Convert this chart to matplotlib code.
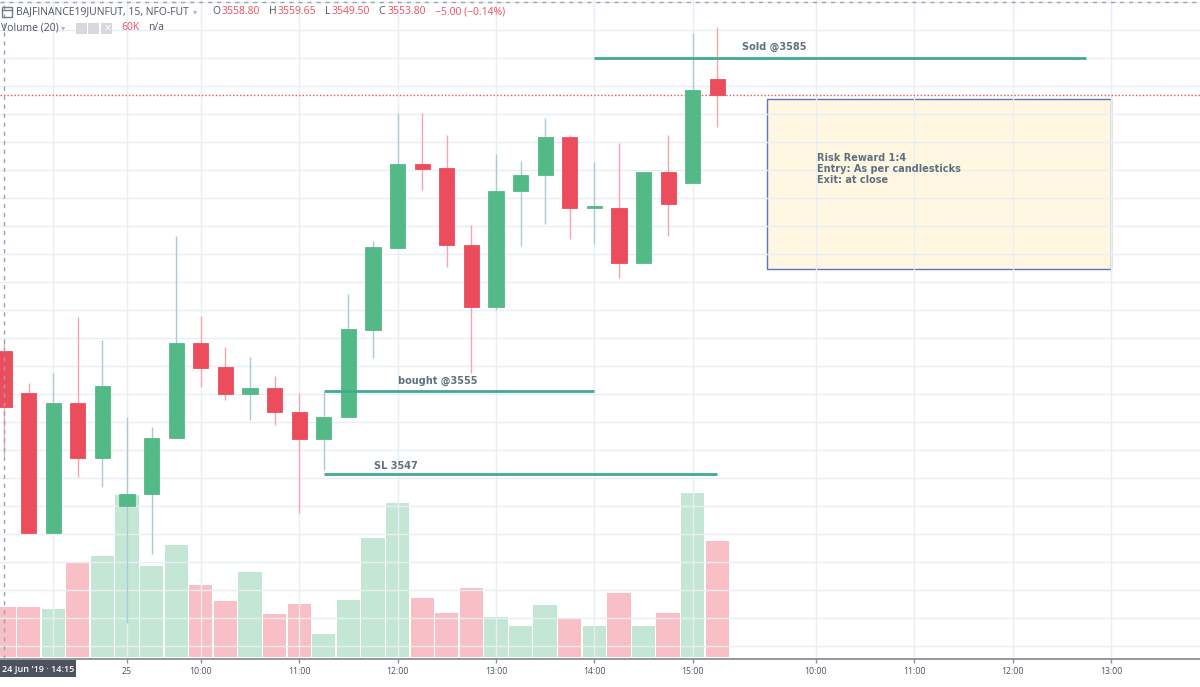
import matplotlib
matplotlib.use('Agg')
import matplotlib.pyplot as plt
from matplotlib.patches import Rectangle
import numpy as np

# 15 min bars, index 0 = 25 Jun 09:15 (previous day bars are negative)
bar_idx = list(range(-5, 25))
opens = [3558.80, 3555.10, 3542.60, 3554.20, 3549.30, 3545.00, 3546.10, 3551.10, 3559.55, 3557.40,
         3555.00, 3555.55, 3553.40, 3551.00, 3552.95, 3560.70, 3568.05, 3575.55, 3575.20, 3568.30,
         3562.75, 3573.10, 3574.55, 3577.95, 3571.60, 3571.60, 3566.70, 3574.80, 3573.85, 3583.10]
highs = [3559.65, 3556.00, 3556.90, 3561.90, 3559.80, 3552.95, 3552.05, 3569.10, 3561.95, 3559.20,
         3558.30, 3556.60, 3555.10, 3555.20, 3563.90, 3568.65, 3580.10, 3580.10, 3578.10, 3570.10,
         3576.45, 3575.80, 3579.65, 3578.10, 3575.70, 3577.40, 3574.80, 3578.10, 3587.25, 3587.75]
lows = [3549.50, 3542.60, 3542.60, 3547.60, 3546.70, 3534.55, 3540.70, 3551.10, 3555.60, 3554.45,
        3552.70, 3552.25, 3544.40, 3548.20, 3552.95, 3558.20, 3568.05, 3573.20, 3566.35, 3556.90,
        3562.50, 3568.20, 3570.20, 3568.85, 3568.40, 3565.35, 3566.70, 3569.10, 3573.85, 3578.85]
closes = [3553.80, 3542.60, 3554.20, 3549.30, 3555.70, 3546.10, 3551.10, 3559.55, 3557.30, 3555.00,
          3555.55, 3553.40, 3551.00, 3552.95, 3560.80, 3568.10, 3575.55, 3575.10, 3568.30, 3562.75,
          3573.10, 3574.55, 3577.95, 3571.60, 3571.65, 3566.70, 3574.80, 3571.95, 3582.15, 3581.70]
volumes_k = [25.9, 25.9, 24.8, 48.6, 52.2, 83.8, 47.1, 57.9, 37.2, 29.0,
             44.0, 22.2, 27.4, 11.9, 29.5, 61.6, 79.7, 30.5, 22.8, 35.7,
             20.7, 16.0, 26.9, 20.2, 16.0, 33.1, 16.0, 22.8, 84.8, 60.0]

tick_pos = [-3, 0, 3, 7, 11, 15, 19, 23, 28, 32, 36, 40]
tick_labels = ['', '25', '10:00', '11:00', '12:00', '13:00', '14:00', '15:00',
               '10:00', '11:00', '12:00', '13:00']

# drawings on the chart
sold_level = 3585.0
buy_level = 3555.3
sl_level = 3547.9
box_lo, box_hi = 3566.16, 3581.34

green = '#53b987'
red = '#eb4d5c'
teal = '#43a894'
txt_col = '#5f7080'

fig = plt.figure(figsize=(12, 6.87), dpi=100)
rect = [0, 28 / 687, 1, 659 / 687]
ax_vol = fig.add_axes(rect)
ax = fig.add_axes(rect, sharex=ax_vol)
ax.patch.set_visible(False)

x = np.array(bar_idx)
o = np.array(opens)
h = np.array(highs)
l = np.array(lows)
c = np.array(closes)
up = c >= o

# volume
vol_cols = [(83/255, 185/255, 135/255, 0.35) if u else (235/255, 77/255, 92/255, 0.35) for u in up]
ax_vol.bar(x, volumes_k, width=0.95, color=vol_cols, linewidth=0)
ax_vol.set_ylim(-1.03, 339.8)
ax_vol.set_axis_off()

# grid
ax.set_axisbelow(True)
ax.set_yticks(np.arange(3532.5, 3590.1, 2.5))
ax.set_xticks(tick_pos, tick_labels)
ax.grid(True, color='#e8eef3', lw=1)
ax.tick_params(axis='y', left=False, labelleft=False)
ax.tick_params(axis='x', length=3, width=1, color='#8c8f96', pad=3,
               labelsize=6.3, labelcolor='#4c525e')
for lab in ax.get_xticklabels():
    lab.set_family(['Open Sans', 'DejaVu Sans'])
for s in ['top', 'right', 'left']:
    ax.spines[s].set_visible(False)
ax.spines['bottom'].set_color('#8c8f96')
ax.spines['bottom'].set_linewidth(1.3)

# candles
wick_cols = np.where(up, '#a9cbd3', '#f5a5ae')
body_cols = np.where(up, green, red)
ax.vlines(x, l, h, colors=wick_cols, lw=1, zorder=3)
ax.bar(x, np.maximum(np.abs(c - o), 0.16), bottom=np.minimum(o, c), width=0.62,
       color=body_cols, edgecolor=body_cols, lw=0.6, zorder=4)

ax.set_xlim(-5.163, 43.62)
ax.set_ylim(3531.34, 3590.18)

# last price line and crosshair
ax.axhline(closes[-1], color=red, lw=1, ls=(0, (1, 1.5)), zorder=2)
ax.axvline(bar_idx[0], color='#9aa3b3', lw=1, ls=(0, (3, 3.5)), zorder=6)
ax.axhline(3589.98, color='#9aa3b3', lw=1, ls=(0, (3, 3.5)), zorder=6)

# trade lines
ax.hlines(sold_level, 19, 39, color=teal, lw=2, zorder=5)
ax.hlines(buy_level, 8, 19, color=teal, lw=2, zorder=5)
ax.hlines(sl_level, 8, 24, color=teal, lw=2, zorder=5)
tfont = dict(family='DejaVu Sans', fontsize=7, fontweight='bold', color=txt_col, va='center', ha='left')
ax.text(25.0, 3585.98, 'Sold @3585', zorder=6, **tfont)
ax.text(11.0, 3556.16, 'bought @3555', zorder=6, **tfont)
ax.text(10.05, 3548.57, 'SL 3547', zorder=6, **tfont)

# risk reward box
ax.add_patch(Rectangle((26, box_lo), 14, box_hi - box_lo, facecolor='#fff7e1',
                       edgecolor='#5f72c0', lw=1, zorder=0.4))
ax.text(28.05, 3575.1, 'Risk Reward 1:4\nEntry: As per candlesticks\nExit: at close',
        linespacing=1.15, zorder=6, **tfont)


# header
def fx(px):
    return px / 1200


def fy(py):
    return 1 - py / 687


hfont = ['Open Sans', 'DejaVu Sans']
dark = '#50535e'
fig.add_artist(Rectangle((fx(2), fy(17)), 10 / 1200, 10 / 687, transform=fig.transFigure,
                         facecolor='none', edgecolor='#787b86', lw=1))
fig.add_artist(plt.Line2D([fx(2), fx(12)], [fy(10), fy(10)], transform=fig.transFigure,
                          color='#787b86', lw=1))
fig.text(fx(16), fy(12), 'BAJFINANCE19JUNFUT, 15, NFO-FUT', family=hfont, fontsize=7.5,
         color=dark, va='center')
fig.text(fx(193), fy(12), '▾', family=['DejaVu Sans'], fontsize=6, color='#b2b5be', va='center')
for px_l, lab, px_v, val in [(212, 'O', 222, '3558.80'), (269, 'H', 278, '3559.65'),
                             (325, 'L', 332, '3549.50'), (378, 'C', 388, '3553.80')]:
    fig.text(fx(px_l), fy(12), lab, family=hfont, fontsize=7.5, color=dark, va='center')
    fig.text(fx(px_v), fy(12), val, family=hfont, fontsize=7.5, color=red, va='center')
fig.text(fx(435), fy(12), '−5.00 (−0.14%)', family=hfont, fontsize=7.5, color=red, va='center')

fig.text(fx(1), fy(28), 'Volume (20)', family=hfont, fontsize=7.5, color=dark, va='center')
fig.text(fx(61), fy(28), '▾', family=['DejaVu Sans'], fontsize=6, color='#b2b5be', va='center')
for px_i in [76, 88, 101]:
    fig.add_artist(Rectangle((fx(px_i), fy(34)), 11 / 1200, 11 / 687, transform=fig.transFigure,
                             facecolor='#d6d8de', edgecolor='none'))
fig.text(fx(103.5), fy(28.5), '×', family=['DejaVu Sans'], fontsize=7, color='white', va='center')
fig.text(fx(121), fy(28), '60K', family=hfont, fontsize=7.5, color=red, va='center')
fig.text(fx(148), fy(28), 'n/a', family=hfont, fontsize=7.5, color=dark, va='center')

# crosshair date label
fig.add_artist(Rectangle((0, fy(677)), 76 / 1200, 17 / 687, transform=fig.transFigure,
                         facecolor='#4c525e', edgecolor='none'))
fig.text(fx(2), fy(668.5), "24 Jun '19 · 14:15", family=hfont, fontsize=6.5,
         fontweight='semibold', color='white', va='center')

fig.savefig('out.png', dpi=100)
